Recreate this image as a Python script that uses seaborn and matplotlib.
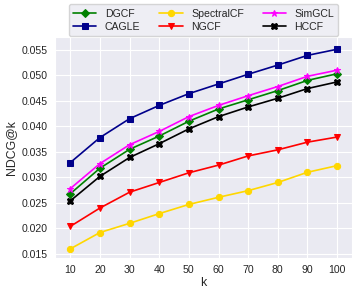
import matplotlib
matplotlib.use("Agg")
import matplotlib.pyplot as plt
import pandas as pd
import seaborn as sns

sns.set_style("darkgrid")
plt.rcParams["font.family"] = ["Liberation Sans", "DejaVu Sans"]

# ------------------ Dados ------------------ #
k_vals = [10, 20, 30, 40, 50, 60, 70, 80, 90, 100]
dgcf = [0.0268, 0.0318, 0.0355, 0.0381, 0.0410, 0.0434, 0.0452, 0.0470, 0.0490, 0.0503]
cagle = [0.0329, 0.0378, 0.0415, 0.0441, 0.0464, 0.0483, 0.0502, 0.0520, 0.0539, 0.0551]
spectralcf = [0.0160, 0.0192, 0.0210, 0.0229, 0.0247, 0.0261, 0.0274, 0.0290, 0.0310, 0.0323]
ngcf = [0.0204, 0.0240, 0.0271, 0.0290, 0.0309, 0.0324, 0.0342, 0.0354, 0.0369, 0.0379]
simgcl = [0.0278, 0.0327, 0.0364, 0.0390, 0.0419, 0.0441, 0.0460, 0.0478, 0.0498, 0.0510]
hccf = [0.0254, 0.0302, 0.0339, 0.0366, 0.0395, 0.0419, 0.0438, 0.0455, 0.0474, 0.0487]

modelos = ["DGCF", "CAGLE", "SpectralCF", "NGCF", "SimGCL", "HCCF"]
series = [dgcf, cagle, spectralcf, ngcf, simgcl, hccf]
cores = ["green", "darkblue", "gold", "red", "magenta", "black"]
marcadores = ["D", "s", "o", "v", "*", "X"]

df = pd.DataFrame(
    [(m, k, v) for m, vals in zip(modelos, series) for k, v in zip(k_vals, vals)],
    columns=["modelo", "k", "ndcg"],
)

# ------------------ Gráfico ------------------ #
fig, ax = plt.subplots(figsize=(3.58, 2.96), dpi=100)
for modelo, cor, mk in zip(modelos, cores, marcadores):
    sub = df[df["modelo"] == modelo]
    sns.lineplot(data=sub, x="k", y="ndcg", color=cor, marker=mk, markersize=4.5,
                 markeredgecolor=cor, linewidth=1.2, label=modelo, ax=ax)

ax.set_xticks(k_vals)
ax.set_xlim(5, 105)
ax.set_ylim(0.0143, 0.0575)
ax.set_yticks([0.015, 0.020, 0.025, 0.030, 0.035, 0.040, 0.045, 0.050, 0.055])
ax.tick_params(labelsize=7.6, pad=2)
ax.set_xlabel("k", fontsize=8.8, labelpad=1)
ax.set_ylabel("NDCG@k", fontsize=8.8, labelpad=3)

ax.legend(loc="lower center", bbox_to_anchor=(0.5, 0.995), ncol=3, fontsize=7.6,
          frameon=True, borderaxespad=0.2, columnspacing=1.8, handlelength=2.2,
          labelspacing=0.3)

fig.subplots_adjust(left=0.155, right=0.983, top=0.875, bottom=0.13)
fig.savefig("out.png", dpi=100)
plt.close()
